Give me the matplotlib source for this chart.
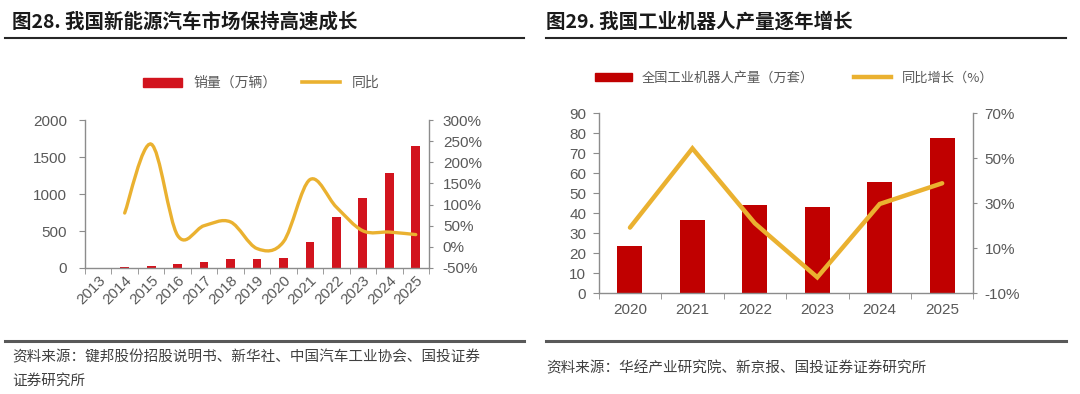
import matplotlib
matplotlib.use('Agg')
import matplotlib.pyplot as plt
from matplotlib.path import Path
from matplotlib.patches import PathPatch, Patch
from matplotlib.lines import Line2D
from matplotlib.ticker import FuncFormatter

plt.rcParams['font.family'] = ['Liberation Sans', 'Noto Sans CJK SC', 'DejaVu Sans']

# ---- data: 新能源汽车 ----
ev_years = ['2013', '2014', '2015', '2016', '2017', '2018', '2019',
            '2020', '2021', '2022', '2023', '2024', '2025']
ev_sales = [1.8, 7.5, 33, 51, 78, 126, 121, 137, 352, 689, 950, 1287, 1649]
ev_yoy = [None, 80, 243, 27, 50, 59, -4, 12, 159, 94, 38, 35, 29]

# ---- data: 工业机器人 ----
rb_years = ['2020', '2021', '2022', '2023', '2024', '2025']
rb_output = [23.7, 36.7, 44.2, 43.2, 55.7, 77.7]
rb_yoy = [19.2, 54.4, 21.1, -2.9, 29.7, 38.9]

RED1 = '#D2141E'
RED2 = '#C00000'
GOLD = '#EAB130'
GRAY = '#595959'
SPINE = '#8C8C8C'


def smooth_path(xs, ys):
    # catmull-rom style bezier through the data points (like excel smoothed line)
    pts = list(zip(xs, ys))
    verts = [pts[0]]
    codes = [Path.MOVETO]
    n = len(pts)
    for i in range(n - 1):
        p0 = pts[i - 1] if i > 0 else pts[i]
        p1 = pts[i]
        p2 = pts[i + 1]
        p3 = pts[i + 2] if i + 2 < n else pts[i + 1]
        c1 = (p1[0] + (p2[0] - p0[0]) / 6, p1[1] + (p2[1] - p0[1]) / 6)
        c2 = (p2[0] - (p3[0] - p1[0]) / 6, p2[1] - (p3[1] - p1[1]) / 6)
        verts += [c1, c2, p2]
        codes += [Path.CURVE4] * 3
    return Path(verts, codes)


def style_axes(ax, ax2, n, lpad=5, rpad=5):
    for s in ['top', 'right']:
        ax.spines[s].set_visible(False)
    for s in ['top', 'left', 'bottom']:
        ax2.spines[s].set_visible(False)
    for sp in [ax.spines['left'], ax.spines['bottom'], ax2.spines['right']]:
        sp.set_color(SPINE)
        sp.set_linewidth(1.0)
    ax.set_xlim(-0.5, n - 0.5)
    ax.set_xticks(range(n))
    ax.set_xticks([i - 0.5 for i in range(n + 1)], minor=True)
    ax.tick_params(axis='x', which='major', length=0, colors=GRAY, labelsize=11)
    ax.tick_params(axis='x', which='minor', length=4, color=SPINE, direction='out')
    ax.tick_params(axis='y', length=4, color=SPINE, colors=GRAY, labelsize=11, pad=lpad)
    ax2.tick_params(axis='y', length=3, color=SPINE, colors=GRAY, labelsize=11, pad=rpad)


fig = plt.figure(figsize=(10.8, 3.94), dpi=100)

# ---------- left chart ----------
ax1 = fig.add_axes([0.0787, 0.3198, 0.3185, 0.3756])
x1 = range(len(ev_years))
ax1.bar(x1, ev_sales, width=0.33, color=RED1, zorder=2)
ax1.set_ylim(0, 2000)
ax1.set_yticks(range(0, 2001, 500))
ax1b = ax1.twinx()
ax1b.set_ylim(-50, 300)
ax1b.set_yticks(range(-50, 301, 50))
ax1b.yaxis.set_major_formatter(FuncFormatter(lambda v, p: f'{v:.0f}%'))
style_axes(ax1, ax1b, len(ev_years), lpad=9, rpad=7)
ax1.set_xticklabels(ev_years, rotation=45, ha='right', va='top', rotation_mode='anchor')
ax1.tick_params(axis='x', which='major', pad=4)
lx = [i for i, v in enumerate(ev_yoy) if v is not None]
ly = [v for v in ev_yoy if v is not None]
ax1b.add_patch(PathPatch(smooth_path(lx, ly), facecolor='none', edgecolor=GOLD,
                         lw=2.4, capstyle='round', zorder=3))

fig.legend(handles=[Patch(color=RED1, label='销量（万辆）'),
                    Line2D([], [], color=GOLD, lw=2.6, label='同比')],
           loc='center', bbox_to_anchor=(0.242, 0.789), ncol=2, frameon=False,
           handlelength=2.8, handleheight=0.6, columnspacing=1.8,
           labelcolor=GRAY, prop={'family': ['Noto Sans CJK SC'], 'size': 10})

# ---------- right chart ----------
ax2 = fig.add_axes([0.5544, 0.2556, 0.3469, 0.4569])
x2 = range(len(rb_years))
ax2.bar(x2, rb_output, width=0.40, color=RED2, zorder=2)
ax2.set_ylim(0, 90)
ax2.set_yticks(range(0, 91, 10))
ax2b = ax2.twinx()
ax2b.set_ylim(-10, 70)
ax2b.set_yticks(range(-10, 71, 20))
ax2b.yaxis.set_major_formatter(FuncFormatter(lambda v, p: f'{v:.0f}%'))
style_axes(ax2, ax2b, len(rb_years))
ax2.set_xticklabels(rb_years)
ax2.tick_params(axis='x', which='major', pad=7)
ax2b.plot(x2, rb_yoy, color=GOLD, lw=3.2, solid_capstyle='round',
          solid_joinstyle='miter', zorder=3)

fig.legend(handles=[Patch(color=RED2, label='全国工业机器人产量（万套）'),
                    Line2D([], [], color=GOLD, lw=3.2, label='同比增长（%）')],
           loc='center', bbox_to_anchor=(0.735, 0.802), ncol=2, frameon=False,
           handlelength=2.8, handleheight=0.6, columnspacing=3.0,
           labelcolor=GRAY, prop={'family': ['Noto Sans CJK SC'], 'size': 9.5})

# ---------- titles, rules, sources ----------
cjk = ['Noto Sans CJK SC', 'DejaVu Sans']
fig.text(0.011, 1 - 22 / 394, '图28. 我国新能源汽车市场保持高速成长', fontsize=14,
         weight='bold', family=cjk, color='#1a1a1a', va='center')
fig.text(0.506, 1 - 22 / 394, '图29. 我国工业机器人产量逐年增长', fontsize=14,
         weight='bold', family=cjk, color='#1a1a1a', va='center')
for x0, x1_ in [(0.005, 0.485), (0.506, 0.987)]:
    fig.add_artist(Line2D([x0, x1_], [0.9036, 0.9036], color='#262626', lw=1.5))
    fig.add_artist(Line2D([x0, x1_], [0.1345, 0.1345], color='#595959', lw=2.2))

fig.text(0.011, 0.094, '资料来源：键邦股份招股说明书、新华社、中国汽车工业协会、国投证券',
         fontsize=10.5, family=cjk, color='#404040', va='center', style='italic')
fig.text(0.011, 0.033, '证券研究所', fontsize=10.5, family=cjk, color='#404040',
         va='center', style='italic')
fig.text(0.506, 0.066, '资料来源：华经产业研究院、新京报、国投证券证券研究所',
         fontsize=10.5, family=cjk, color='#404040', va='center', style='italic')

fig.savefig('out.png', dpi=100)
